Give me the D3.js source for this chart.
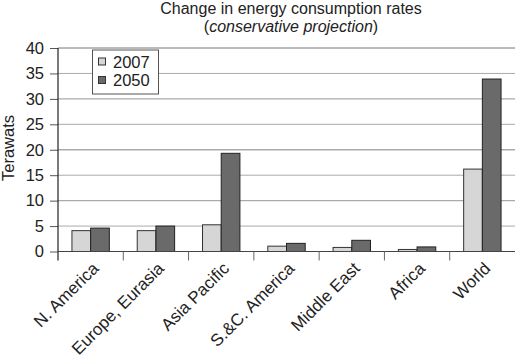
<!DOCTYPE html>
<html><head><meta charset="utf-8">
<script src="https://cdn.jsdelivr.net/npm/d3@7/dist/d3.min.js"></script>
<style>body{margin:0;background:#fff;} text{font-family:"Liberation Sans",Arial,sans-serif;fill:#222;}</style>
</head><body><svg id="c" width="518" height="358"></svg>
<script>
const categories = ["N. America","Europe, Eurasia","Asia Pacific","S.&C. America","Middle East","Africa","World"];
const seriesNames = ["2007","2050"];
const values2007 = [4.1, 4.1, 5.25, 1.05, 0.8, 0.4, 16.2];
const values2050 = [4.6, 5.0, 19.3, 1.6, 2.2, 0.9, 33.9];
const yTicks = [0,5,10,15,20,25,30,35,40];

const svg = d3.select("#c");
const L = 58, R = 515, T = 48, B = 251.5;
const x = d3.scaleBand().domain(categories).range([L, R]);
const y = d3.scaleLinear().domain([0, 40]).range([B, T]);
const fills = ["#d6d6d6", "#6a6a6a"];
const strokes = ["#333", "#222"];

// gridlines
svg.append("g").selectAll("line").data(yTicks.filter(d=>d>0)).join("line")
  .attr("x1", L).attr("x2", R).attr("y1", d=>y(d)).attr("y2", d=>y(d))
  .attr("stroke", d=> d===40 ? "#777" : "#aaa").attr("stroke-width", d=> d%10===0 && d!==40 ? 1.4 : 1);

// bars
const inner = d3.scaleBand().domain(seriesNames).range([0, 37.4]);
const off = (x.bandwidth() - 37.4) / 2;
const data = categories.map((c,i)=>({c, v:[values2007[i], values2050[i]]}));
const g = svg.append("g").selectAll("g").data(data).join("g")
  .attr("transform", d=>`translate(${x(d.c)+off},0)`);
g.selectAll("rect").data(d=>d.v.map((v,j)=>({v,j}))).join("rect")
  .attr("x", d=>inner(seriesNames[d.j])).attr("width", inner.bandwidth())
  .attr("y", d=>y(d.v)).attr("height", d=>B - y(d.v))
  .attr("fill", d=>fills[d.j]).attr("stroke", d=>strokes[d.j]).attr("stroke-width", 1);

// y axis
const ya = svg.append("g").attr("transform", `translate(${L},0)`)
  .call(d3.axisLeft(y).tickValues(yTicks).tickSize(8).tickPadding(6));
ya.select(".domain").remove();
ya.selectAll("line").attr("stroke", "#555");
ya.selectAll("text").style("font-size", "16.5px").style("font-family", "'Liberation Sans',Arial,sans-serif").attr("fill", "#222");
svg.append("line").attr("x1", L).attr("x2", L).attr("y1", T).attr("y2", B + 9).attr("stroke", "#222").attr("stroke-width", 1.2);

// x axis
svg.append("line").attr("x1", L).attr("x2", R).attr("y1", B).attr("y2", B).attr("stroke", "#444").attr("stroke-width", 1.2);
svg.append("g").selectAll("line").data(categories.slice(1)).join("line")
  .attr("x1", d=>x(d)).attr("x2", d=>x(d)).attr("y1", B).attr("y2", B + 9).attr("stroke", "#666");
svg.append("g").selectAll("text").data(categories).join("text")
  .attr("transform", d=>`translate(${x(d)+x.bandwidth()/2+9},${B+18}) rotate(-45)`)
  .attr("text-anchor", "end").style("font-size", "17px").text(d=>d);

// y label
svg.append("text").attr("transform", "translate(13.5,148) rotate(-90)").attr("text-anchor", "middle")
  .style("font-size", "16.5px").text("Terawats");

// title
svg.append("text").attr("x", 291).attr("y", 14).attr("text-anchor", "middle").style("font-size", "16px")
  .text("Change in energy consumption rates");
const t2 = svg.append("text").attr("x", 291).attr("y", 31.5).attr("text-anchor", "middle").style("font-size", "16px");
t2.append("tspan").text("(");
t2.append("tspan").style("font-style", "italic").text("conservative projection");
t2.append("tspan").text(")");

// legend
const lg = svg.append("g");
lg.append("rect").attr("x", 92.5).attr("y", 50).attr("width", 66).attr("height", 44)
  .attr("fill", "#fff").attr("stroke", "#555");
seriesNames.forEach((s, i) => {
  const yy = 62 + i * 18.5;
  lg.append("rect").attr("x", 98.5).attr("y", yy - 4).attr("width", 7).attr("height", 7)
    .attr("fill", fills[i]).attr("stroke", "#333");
  lg.append("text").attr("x", 113).attr("y", yy + 5.5).style("font-size", "16.5px").text(s);
});
</script></body></html>
